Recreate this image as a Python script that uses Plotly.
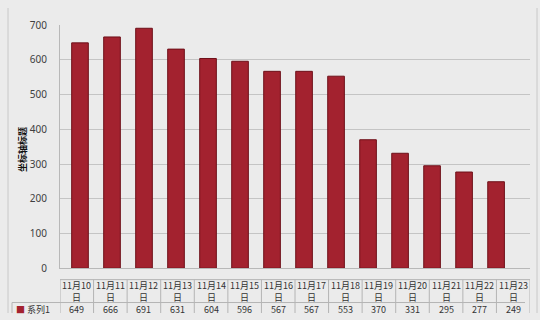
import plotly.graph_objects as go

categories = ["11月10日", "11月11日", "11月12日", "11月13日", "11月14日", "11月15日", "11月16日",
              "11月17日", "11月18日", "11月19日", "11月20日", "11月21日", "11月22日", "11月23日"]
header_labels = ["11月10<br>日", "11月11<br>日", "11月12<br>日", "11月13<br>日", "11月14<br>日",
                 "11月15<br>日", "11月16<br>日", "11月17<br>日", "11月18<br>日", "11月19<br>日",
                 "11月20<br>日", "11月21<br>日", "11月22<br>日", "11月23<br>日"]
values = [649, 666, 691, 631, 604, 596, 567, 567, 553, 370, 331, 295, 277, 249]
series_name = "系列1"
y_title = "坐标轴标题"
y_ticks = [0, 100, 200, 300, 400, 500, 600, 700]

W, H = 540, 320
BG = "#ebebeb"
BAR = "#a3222f"

def px(xp):
    return xp / W

def py(yp):
    return 1 - yp / H

fig = go.Figure()
fig.add_trace(go.Bar(
    x=list(range(len(categories))), y=values, width=0.52,
    marker=dict(color=BAR, line=dict(color="#6e1019", width=1)),
    showlegend=False, hoverinfo="skip"))
# invisible trace to anchor table axis
fig.add_trace(go.Scatter(x=list(range(len(categories))), y=[None] * len(categories),
                         xaxis="x2", yaxis="y", mode="markers", showlegend=False,
                         hoverinfo="skip"))

annotations = []
shapes = []
for i, lab in enumerate(header_labels):
    annotations.append(dict(x=i, y=py(297), xref="x2", yref="paper", text=lab,
                            showarrow=False, font=dict(size=9, color="#333333",
                                                       family="Noto Sans CJK SC"),
                            xanchor="center", yanchor="middle"))
for i, v in enumerate(values):
    annotations.append(dict(x=i, y=py(316), xref="x2", yref="paper", text=str(v),
                            showarrow=False, font=dict(size=9, color="#333333",
                                                       family="Noto Sans CJK SC"),
                            xanchor="center", yanchor="middle"))
annotations.append(dict(x=px(14), y=py(316), xref="paper", yref="paper",
                        text="<span style='color:%s'>■</span> %s" % (BAR, series_name),
                        showarrow=False, xanchor="left", yanchor="middle",
                        font=dict(size=9, color="#333333", family="Noto Sans CJK SC")))
annotations.append(dict(x=px(22), y=py(149), xref="paper", yref="paper", text="<b>%s</b>" % y_title,
                        showarrow=False, textangle=-90, xanchor="center", yanchor="middle",
                        font=dict(size=9, color="#111111", family="Noto Sans CJK SC")))

line_col = "#b4b4b4"
for i in range(len(categories) + 1):
    shapes.append(dict(type="line", xref="x2", yref="paper", x0=i - 0.5, x1=i - 0.5,
                       y0=py(285), y1=py(320), line=dict(color=line_col, width=1)))
shapes.append(dict(type="line", xref="x2", yref="paper", x0=-0.5, x1=len(categories) - 0.5,
                   y0=py(285), y1=py(285), line=dict(color=line_col, width=1)))
shapes.append(dict(type="line", xref="paper", yref="paper", x0=px(12), x1=px(525),
                   y0=py(309), y1=py(309), line=dict(color=line_col, width=1)))
shapes.append(dict(type="line", xref="paper", yref="paper", x0=px(12), x1=px(12),
                   y0=py(309), y1=py(320), line=dict(color=line_col, width=1)))
# chart frame lines
shapes.append(dict(type="line", xref="paper", yref="paper", x0=px(8), x1=px(8),
                   y0=0, y1=1, line=dict(color="#c8c8c8", width=1)))
shapes.append(dict(type="line", xref="paper", yref="paper", x0=px(537), x1=px(537),
                   y0=0, y1=1, line=dict(color="#c8c8c8", width=1)))

fig.update_layout(
    width=W, height=H, margin=dict(l=0, r=0, t=0, b=0),
    paper_bgcolor=BG, plot_bgcolor=BG,
    xaxis=dict(domain=[px(60), px(530)], range=[-0.625, 14.06], showticklabels=False,
               showgrid=False, zeroline=False, ticks="", showline=True,
               linecolor="#b8b8b8"),
    xaxis2=dict(domain=[px(50), px(525)], range=[-0.5, 13.5], visible=False,
                anchor="y", overlaying="x"),
    yaxis=dict(domain=[py(273), py(18)], range=[0, 700], tickvals=y_ticks,
               showgrid=True, gridcolor="#c4c4c4", gridwidth=1, zeroline=False,
               showline=True, linecolor="#b8b8b8", ticks="",
               tickfont=dict(size=10, color="#404040", family="Noto Sans"),
               ticklabelstandoff=10),
    annotations=annotations, shapes=shapes,
    font=dict(family="Noto Sans CJK SC"),
)
fig.write_html("out.html")
